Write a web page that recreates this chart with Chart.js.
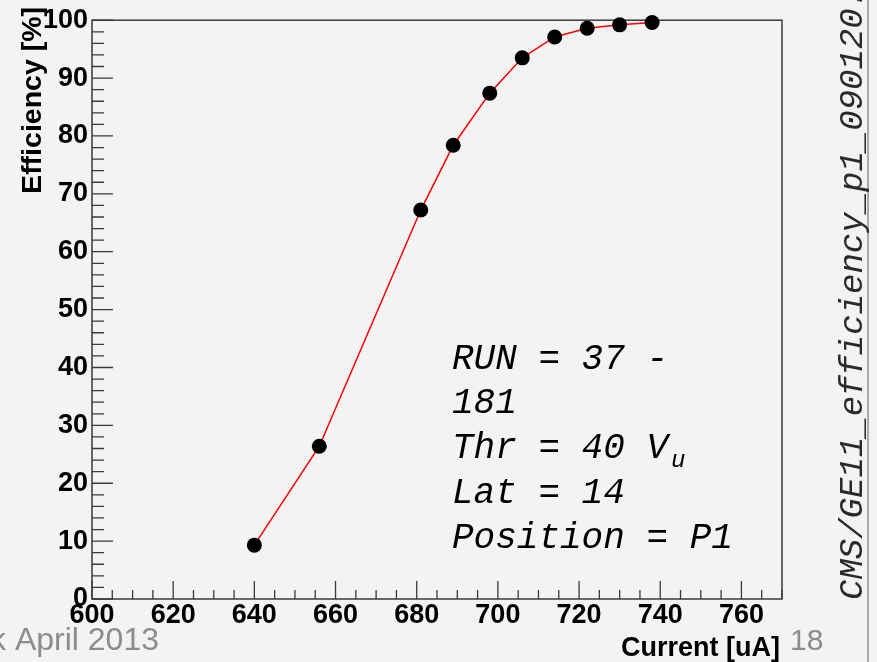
<!DOCTYPE html>
<html>
<head>
<meta charset="utf-8">
<script src="https://cdn.jsdelivr.net/npm/chart.js@4.4.0/dist/chart.umd.min.js"></script>
<style>
  html, body { margin: 0; padding: 0; background: #f3f3f3; overflow: hidden; }
</style>
</head>
<body>
<canvas id="eff" width="877" height="662"></canvas>
<script>
// values
const currents = [640, 656, 681, 689, 698, 706, 714, 722, 730, 738];
const efficiency = [9.3, 26.4, 67.2, 78.4, 87.4, 93.5, 97.1, 98.6, 99.2, 99.6];
const xTicks = [600, 620, 640, 660, 680, 700, 720, 740, 760];
const yTicks = [0, 10, 20, 30, 40, 50, 60, 70, 80, 90, 100];
const infoLines = ['RUN = 37 -', '181', 'Thr = 40 V', 'Lat = 14', 'Position = P1'];
const watermark = 'CMS/GE11_efficiency_p1_090120.';

const labelFont = { family: 'Liberation Sans', size: 27, weight: 'bold' };

// ROOT-style frame, inward ticks and all the loose text
const rootDecor = {
    id: 'rootDecor',
    beforeDraw(chart) {
        const ctx = chart.ctx;
        ctx.save();
        ctx.fillStyle = '#f3f3f3';
        ctx.fillRect(0, 0, chart.width, chart.height);
        // slide footer behind the plot
        ctx.fillStyle = '#8c8c8c';
        ctx.font = '32px "Liberation Sans"';
        ctx.textBaseline = 'alphabetic';
        ctx.fillText('k April 2013', -10, 650);
        ctx.font = '30px "Liberation Sans"';
        ctx.fillText('18', 790, 650);
        // right border line of the canvas
        ctx.strokeStyle = '#a8a8a8';
        ctx.lineWidth = 2;
        ctx.beginPath();
        ctx.moveTo(868, 0);
        ctx.lineTo(868, chart.height);
        ctx.stroke();
        ctx.restore();
    },
    beforeDatasetsDraw(chart) {
        const { ctx, chartArea: a, scales: { x, y } } = chart;
        ctx.save();
        ctx.strokeStyle = '#3a3a3a';
        ctx.lineWidth = 1.5;
        ctx.strokeRect(a.left, a.top, a.right - a.left, a.bottom - a.top);
        ctx.lineWidth = 1.3;
        ctx.beginPath();
        for (let v = x.min; v <= x.max; v += 5) {
            const px = x.getPixelForValue(v);
            const len = (v % 20 === 0) ? 18 : 9;
            ctx.moveTo(px, a.bottom);
            ctx.lineTo(px, a.bottom - len);
        }
        for (let v = y.min; v <= y.max; v += 2) {
            const py = y.getPixelForValue(v);
            const len = (v % 10 === 0) ? 21 : 12;
            ctx.moveTo(a.left, py);
            ctx.lineTo(a.left + len, py);
        }
        ctx.stroke();
        ctx.restore();
    },
    afterDraw(chart) {
        const ctx = chart.ctx;
        ctx.save();
        ctx.fillStyle = '#000';
        ctx.textBaseline = 'alphabetic';

        // axis titles
        ctx.font = 'bold 27px "Liberation Sans"';
        ctx.textAlign = 'right';
        ctx.fillText('Current [uA]', 780, 656);

        ctx.save();
        ctx.translate(41, 7);
        ctx.rotate(-Math.PI / 2);
        ctx.font = 'bold 28.5px "Liberation Sans"';
        ctx.textAlign = 'right';
        ctx.fillText('Efficiency [%]', 0, 0);
        ctx.restore();

        // run info box
        ctx.textAlign = 'left';
        ctx.font = 'italic 36px "Liberation Mono"';
        const baselines = [369, 413, 458, 503, 548];
        infoLines.forEach((t, i) => ctx.fillText(t, 452, baselines[i]));
        const vw = ctx.measureText(infoLines[2]).width;
        ctx.font = 'italic 24px "Liberation Mono"';
        ctx.fillText('u', 452 + vw + 3, 467);

        // file name down the right side
        ctx.save();
        ctx.translate(862, 600);
        ctx.rotate(-Math.PI / 2);
        ctx.font = 'italic 34px "Liberation Mono"';
        ctx.fillStyle = '#2a2a2a';
        ctx.fillText(watermark, 0, 0);
        ctx.restore();

        ctx.restore();
    }
};

new Chart(document.getElementById('eff'), {
    type: 'scatter',
    data: {
        datasets: [{
            data: currents.map((c, i) => ({ x: c, y: efficiency[i] })),
            showLine: true,
            borderColor: '#ff0000',
            borderWidth: 1.5,
            pointRadius: 7.5,
            pointBackgroundColor: '#000',
            pointBorderWidth: 0,
            clip: false
        }]
    },
    options: {
        responsive: false,
        animation: false,
        devicePixelRatio: 1,
        layout: { padding: { left: 0, top: 18, right: 95, bottom: 0 } },
        plugins: { legend: { display: false }, tooltip: { enabled: false } },
        scales: {
            x: {
                type: 'linear', min: 600, max: 770,
                afterBuildTicks: s => { s.ticks = xTicks.map(v => ({ value: v })); },
                afterFit: s => { s.height = 63; },
                grid: { display: false, drawTicks: false },
                border: { display: false },
                ticks: { font: labelFont, color: '#000', padding: 0, maxRotation: 0, autoSkip: false }
            },
            y: {
                type: 'linear', min: 0, max: 100,
                afterBuildTicks: s => { s.ticks = yTicks.map(v => ({ value: v })); },
                afterFit: s => { s.width = 92; },
                grid: { display: false, drawTicks: false },
                border: { display: false },
                ticks: { font: labelFont, color: '#000', padding: 4, autoSkip: false }
            }
        }
    },
    plugins: [rootDecor]
});
</script>
</body>
</html>
